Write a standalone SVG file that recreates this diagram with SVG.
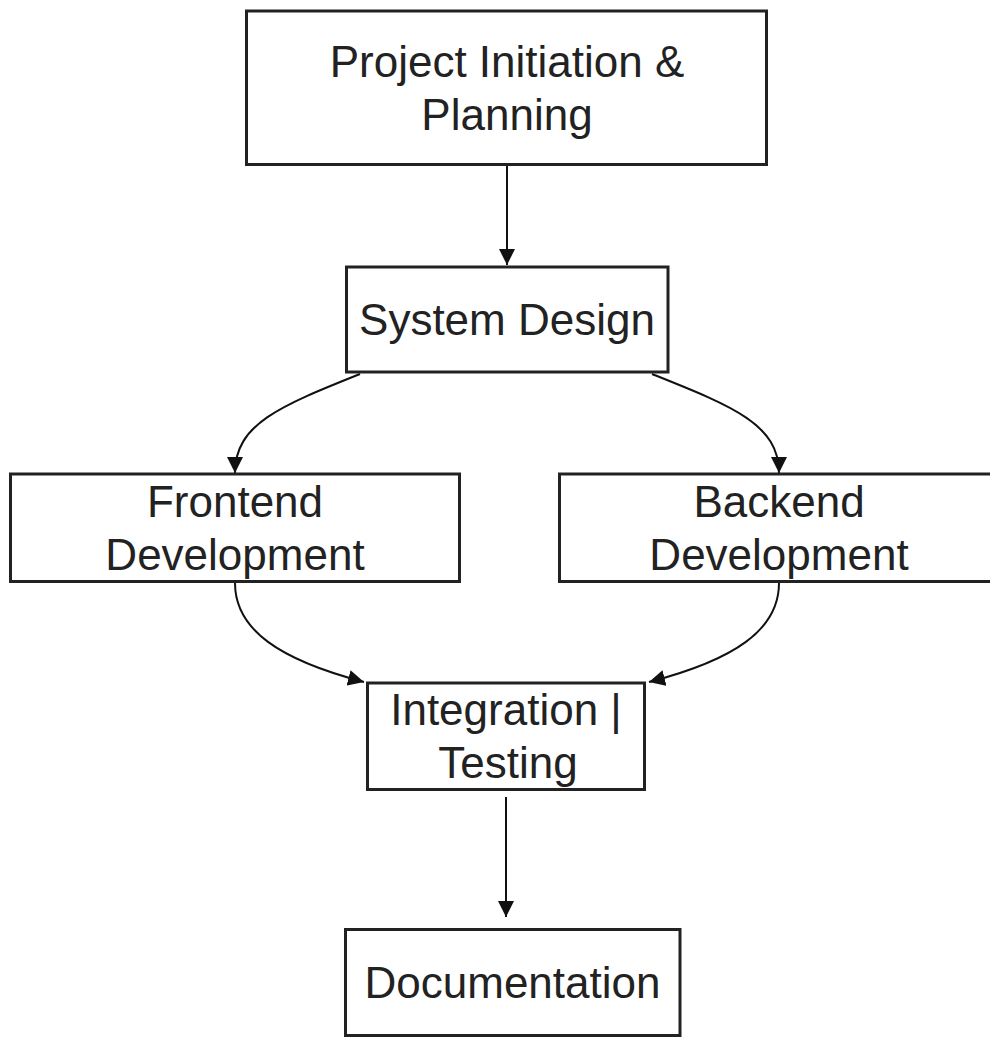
<svg xmlns="http://www.w3.org/2000/svg" width="990" height="1040" viewBox="0 0 990 1040">
  <style>
    .node rect { fill: #ffffff; stroke: #222222; stroke-width: 3; }
    .node text { font-family: "Liberation Sans", Arial, sans-serif; font-size: 44px; fill: #222222; text-anchor: middle; }
    .edge { fill: none; stroke: #111111; stroke-width: 2; }
  </style>
  <defs>
    <marker id="arrowhead" markerUnits="userSpaceOnUse" markerWidth="16" markerHeight="16" viewBox="0 0 16 16" refX="16" refY="8" orient="auto">
      <path d="M0,0 L16,8 L0,16 z" fill="#111111"/>
    </marker>
  </defs>
  <rect width="990" height="1040" fill="#ffffff"/>

  <!-- connectors -->
  <g id="edges">
    <path class="edge" d="M507,166 L507,265" marker-end="url(#arrowhead)"/>
    <path class="edge" d="M360,374 C280,406 235,424 235,473" marker-end="url(#arrowhead)"/>
    <path class="edge" d="M652,374 C732,406 779,424 779,473" marker-end="url(#arrowhead)"/>
    <path class="edge" d="M235,583 C235,630 280,660 364,682" marker-end="url(#arrowhead)"/>
    <path class="edge" d="M779,583 C779,630 734,660 649,682" marker-end="url(#arrowhead)"/>
    <path class="edge" d="M506,797 L506,917" marker-end="url(#arrowhead)"/>
  </g>

  <!-- nodes -->
  <g id="planning" class="node">
    <rect x="246.5" y="11" width="520" height="153.5"/>
    <text x="507" y="77">Project Initiation &amp;</text>
    <text x="507" y="130">Planning</text>
  </g>
  <g id="design" class="node">
    <rect x="346.5" y="267" width="321.5" height="105"/>
    <text x="507" y="335">System Design</text>
  </g>
  <g id="frontend" class="node">
    <rect x="10.5" y="474" width="449" height="107.5"/>
    <text x="235" y="517">Frontend</text>
    <text x="235" y="570">Development</text>
  </g>
  <g id="backend" class="node">
    <rect x="559.5" y="474" width="439" height="107.5"/>
    <text x="779" y="517">Backend</text>
    <text x="779" y="570">Development</text>
  </g>
  <g id="integration" class="node">
    <rect x="367.5" y="683" width="277" height="106.5"/>
    <text x="506" y="725">Integration |</text>
    <text x="508" y="778">Testing</text>
  </g>
  <g id="documentation" class="node">
    <rect x="345.5" y="929.5" width="334.5" height="106"/>
    <text x="512.5" y="998">Documentation</text>
  </g>
</svg>
